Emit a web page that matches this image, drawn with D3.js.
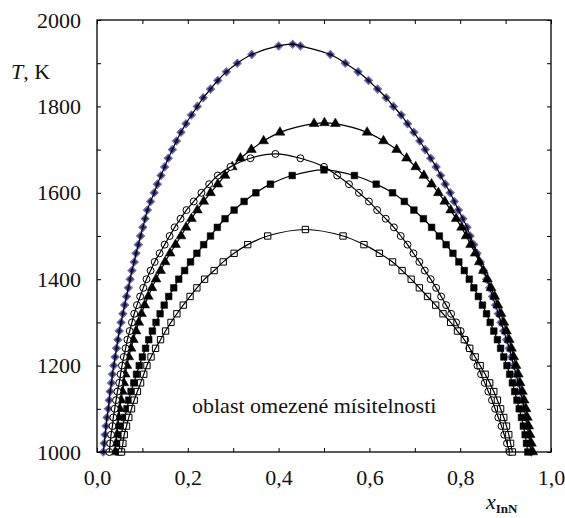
<!DOCTYPE html>
<html><head><meta charset="utf-8">
<script src="https://cdn.jsdelivr.net/npm/d3@7"></script>
<style>
body{margin:0;background:#fff}
svg{display:block}
text{font-family:"Liberation Serif","DejaVu Serif",serif;fill:#111}
</style>
</head><body>
<svg id="c" width="565" height="518"></svg>
<script>
// Temperature grid (K) on which the binodal branches are given
const temps = [1000,1020,1040,1060,1080,1100,1120,1140,1160,1180,1200,1220,1240,1260,1280,1300,1320,1340,1360,1380,1400,1420,1440,1460,1480,1500,1520,1540,1560,1580,1600,1620,1640,1660,1680,1700,1720,1740,1760,1780,1800,1820,1840,1860,1880,1900,1920,1940];

// Series 1 – diamonds
const diamondLeft  = [0.014,0.016,0.018,0.020,0.022,0.025,0.027,0.029,0.032,0.034,0.037,0.040,0.043,0.046,0.049,0.053,0.057,0.061,0.065,0.069,0.073,0.077,0.082,0.086,0.091,0.096,0.101,0.106,0.111,0.118,0.126,0.133,0.141,0.149,0.157,0.166,0.175,0.185,0.196,0.208,0.221,0.234,0.250,0.266,0.285,0.309,0.341,0.400];
const diamondRight = [0.957,0.954,0.951,0.948,0.945,0.941,0.937,0.933,0.928,0.923,0.918,0.913,0.908,0.902,0.896,0.890,0.884,0.878,0.871,0.865,0.858,0.851,0.844,0.837,0.830,0.822,0.815,0.806,0.796,0.787,0.778,0.767,0.757,0.747,0.735,0.723,0.711,0.698,0.684,0.670,0.653,0.637,0.618,0.598,0.575,0.547,0.514,0.448];
const diamondPeak  = [0.431,1944];

// Series 2 – filled triangles
const triLeft  = [0.040,0.042,0.044,0.046,0.048,0.050,0.053,0.056,0.059,0.062,0.066,0.070,0.075,0.080,0.086,0.092,0.098,0.105,0.113,0.121,0.130,0.140,0.150,0.161,0.173,0.185,0.196,0.208,0.221,0.235,0.250,0.266,0.282,0.298,0.316,0.340,0.367,0.403,0.478];
const triRight = [0.960,0.957,0.954,0.951,0.948,0.945,0.941,0.937,0.932,0.928,0.923,0.918,0.913,0.908,0.902,0.896,0.890,0.883,0.876,0.868,0.860,0.851,0.842,0.833,0.823,0.813,0.803,0.791,0.779,0.766,0.752,0.737,0.720,0.702,0.682,0.660,0.631,0.595,0.525];
const triPeak  = [0.501,1762];

// Series 3 – open circles
const circLeft  = [0.027,0.029,0.031,0.034,0.036,0.039,0.042,0.045,0.049,0.052,0.055,0.059,0.063,0.067,0.072,0.077,0.082,0.088,0.095,0.102,0.109,0.118,0.127,0.138,0.149,0.160,0.171,0.184,0.197,0.213,0.230,0.247,0.266,0.294,0.338];
const circRight = [0.909,0.903,0.897,0.891,0.884,0.877,0.870,0.862,0.854,0.846,0.838,0.829,0.820,0.811,0.801,0.791,0.780,0.769,0.758,0.747,0.735,0.722,0.710,0.697,0.684,0.669,0.654,0.636,0.617,0.599,0.577,0.555,0.529,0.500,0.448];
const circPeak  = [0.393,1690];

// Series 4 – filled squares
const sqLeft  = [0.048,0.051,0.054,0.057,0.061,0.066,0.070,0.075,0.081,0.087,0.093,0.100,0.107,0.114,0.122,0.130,0.139,0.148,0.158,0.169,0.180,0.193,0.206,0.220,0.235,0.250,0.265,0.282,0.302,0.324,0.350,0.382,0.430];
const sqRight = [0.949,0.946,0.943,0.939,0.935,0.930,0.925,0.920,0.915,0.909,0.903,0.896,0.889,0.882,0.874,0.866,0.858,0.849,0.840,0.830,0.820,0.809,0.797,0.784,0.769,0.754,0.737,0.719,0.698,0.677,0.651,0.615,0.567];
const sqPeak  = [0.500,1653];

// Series 5 – open squares
const osqLeft  = [0.054,0.057,0.060,0.065,0.070,0.076,0.082,0.089,0.096,0.103,0.110,0.119,0.129,0.140,0.151,0.163,0.176,0.190,0.205,0.220,0.237,0.258,0.278,0.302,0.332,0.376];
const osqRight = [0.915,0.911,0.907,0.902,0.896,0.889,0.882,0.874,0.865,0.855,0.844,0.833,0.821,0.809,0.794,0.779,0.762,0.746,0.728,0.710,0.692,0.672,0.651,0.622,0.588,0.542];
const osqPeak  = [0.459,1515];

// Axis ticks / labels
const xMinorTicks = [0,0.1,0.2,0.3,0.4,0.5,0.6,0.7,0.8,0.9,1.0];
const xLabelTicks = [0,0.2,0.4,0.6,0.8,1.0];
const yMinorTicks = [1000,1100,1200,1300,1400,1500,1600,1700,1800,1900,2000];
const yLabelTicks = [1000,1200,1400,1600,1800,2000];

const FONT = "'Liberation Serif','DejaVu Serif',serif";
const svg = d3.select("#c");
const L=97,R=551,T=20,B=452;
const x = d3.scaleLinear().domain([0,1]).range([L,R]);
const y = d3.scaleLinear().domain([1000,2000]).range([B,T]);

function build(left,right,peak){
  const pts=[];
  left.forEach((v,i)=>pts.push([v,temps[i]]));
  pts.push(peak);
  for(let i=right.length-1;i>=0;i--) pts.push([right[i],temps[i]]);
  return pts;
}

const series = [
  {pts:build(diamondLeft,diamondRight,diamondPeak), type:"diamond"},
  {pts:build(triLeft,triRight,triPeak), type:"triangle"},
  {pts:build(circLeft,circRight,circPeak), type:"circle"},
  {pts:build(sqLeft,sqRight,sqPeak), type:"square"},
  {pts:build(osqLeft,osqRight,osqPeak), type:"osquare"}
];

const line = d3.line().x(d=>x(d[0])).y(d=>y(d[1])).curve(d3.curveCatmullRom.alpha(0.5));

const plot = svg.append("g");
series.forEach(s=>{
  const g = plot.append("g");
  let sym, fill, stroke, sw, rot=0;
  if(s.type==="diamond"){sym=d3.symbol(d3.symbolSquare,30);fill="#2a2a62";stroke="#7070b4";sw=1.3;rot=45;}
  if(s.type==="triangle"){sym=d3.symbol(d3.symbolTriangle,42);fill="#000";stroke="#000";sw=0.5;}
  if(s.type==="circle"){sym=d3.symbol(d3.symbolCircle,38);fill="#fff";stroke="#000";sw=1;}
  if(s.type==="square"){sym=d3.symbol(d3.symbolSquare,44);fill="#000";stroke="#000";sw=0.5;}
  if(s.type==="osquare"){sym=d3.symbol(d3.symbolSquare,40);fill="#fff";stroke="#000";sw=1;}
  g.selectAll("path.m").data(s.pts).join("path").attr("class","m")
    .attr("d",sym)
    .attr("transform",d=>`translate(${x(d[0])},${y(d[1])}) rotate(${rot})`)
    .attr("fill",fill).attr("stroke",stroke).attr("stroke-width",sw);
  g.append("path").datum(s.pts).attr("d",line)
    .attr("fill","none").attr("stroke","#000").attr("stroke-width",1.2);
});

// Frame
svg.append("rect").attr("x",L).attr("y",T).attr("width",R-L).attr("height",B-T)
  .attr("fill","none").attr("stroke","#000").attr("stroke-width",1.3);

function tickAxis(axis,tr){
  const g=svg.append("g").attr("transform",tr).call(axis);
  g.select(".domain").remove();
  g.selectAll("line").attr("stroke","#000").attr("stroke-width",1);
  return g;
}
tickAxis(d3.axisBottom(x).tickValues(xMinorTicks).tickSizeInner(-4).tickSizeOuter(0).tickFormat(""),`translate(0,${B})`);
tickAxis(d3.axisTop(x).tickValues(xMinorTicks).tickSizeInner(-4).tickSizeOuter(0).tickFormat(""),`translate(0,${T})`);
tickAxis(d3.axisLeft(y).tickValues(yMinorTicks).tickSizeInner(-4).tickSizeOuter(0).tickFormat(""),`translate(${L},0)`);
tickAxis(d3.axisRight(y).tickValues(yMinorTicks).tickSizeInner(-4).tickSizeOuter(0).tickFormat(""),`translate(${R},0)`);

const fmt = v=>d3.format(".1f")(v).replace(".",",");
const gx = svg.append("g").attr("transform",`translate(0,${B})`)
  .call(d3.axisBottom(x).tickValues(xLabelTicks).tickSize(0).tickPadding(17).tickFormat(fmt));
gx.attr("font-family",FONT).attr("font-size",22);
gx.select(".domain").remove();
gx.selectAll("text").attr("font-size",22).style("font-family",FONT).attr("fill","#111");
const gy = svg.append("g").attr("transform",`translate(${L},0)`)
  .call(d3.axisLeft(y).tickValues(yLabelTicks).tickSize(0).tickPadding(16).tickFormat(d3.format("d")));
gy.attr("font-family",FONT).attr("font-size",22);
gy.select(".domain").remove();
gy.selectAll("text").attr("font-size",22).style("font-family",FONT).attr("fill","#111");

// Axis titles
const yt = svg.append("text").attr("x",11).attr("y",79).attr("font-size",22).style("font-family",FONT);
yt.append("tspan").attr("font-style","italic").text("T");
yt.append("tspan").text(", K");
const xt = svg.append("text").attr("x",486).attr("y",509).attr("font-size",22).style("font-family",FONT);
xt.append("tspan").attr("font-style","italic").text("x");
xt.append("tspan").attr("font-weight","bold").attr("font-size",13).attr("dy",4).text("InN");

// Region annotation
svg.append("text").attr("x",192).attr("y",413).attr("font-size",22).style("font-family",FONT)
  .text("oblast omezené mísitelnosti");
</script>
</body></html>
